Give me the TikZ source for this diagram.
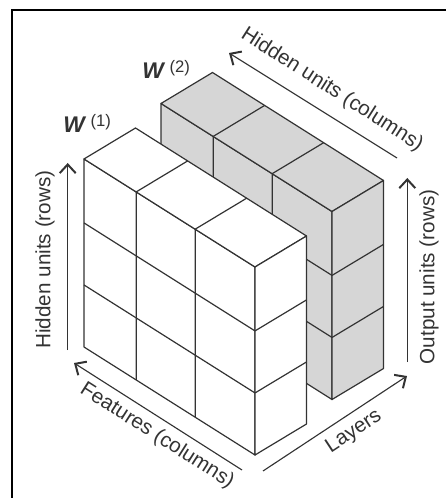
\documentclass[tikz,border=0pt]{standalone}
\usepackage{fontspec}
\setmainfont{Liberation Sans}
\usetikzlibrary{arrows.meta}
\definecolor{edgegray}{HTML}{333333}
\definecolor{boxgray}{HTML}{D6D6D6}
\begin{document}
\begin{tikzpicture}[x=0.75pt, y=-0.75pt,
  every node/.style={font=\fontsize{15.5pt}{18pt}\selectfont, text=edgegray, inner sep=0pt},
  cell/.style={draw=edgegray, line width=0.9pt, line join=round},
  axis/.style={draw=edgegray, line width=0.85pt, -{Straight Barb[length=6.5pt, width=12pt, line width=1.5pt]}},
  wlabel/.style={anchor=base west, font=\fontsize{17pt}{20pt}\selectfont\bfseries\itshape}]
  \useasboundingbox (0,0) rectangle (446,498);

  % Frame
  \draw[line width=1.1pt] (12,498) -- (12,10) -- (446,10);

  % Weight blocks: W(2) behind, W(1) in front
  \foreach \ox/\oy/\fc in {161/103.5/boxgray, 84/159/white} {
    \begin{scope}[shift={(\ox,\oy)}]
      \filldraw[cell, fill=\fc] (0,0) -- (171,108) -- (171,296) -- (0,188) -- cycle;
      \filldraw[cell, fill=\fc] (0,0) -- (51.5,-31) -- (222.5,77) -- (171,108) -- cycle;
      \filldraw[cell, fill=\fc] (171,108) -- (222.5,77) -- (222.5,265) -- (171,296) -- cycle;
      % column edges
      \foreach \f in {0.305,0.65}
        \draw[cell] (171*\f,188+108*\f) -- (171*\f,108*\f) -- ++(51.5,-31);
      % row edges
      \foreach \g in {0.34,0.67}
        \draw[cell] (0,188*\g) -- (171,108+188*\g) -- ++(51.5,-31);
    \end{scope}
  }

  % Axes
  \coordinate (hrs) at (67.7,350);  \coordinate (hre) at (67.7,163);
  \coordinate (ors) at (407.3,362); \coordinate (ore) at (407.3,178);
  \coordinate (hcs) at (397,158);   \coordinate (hce) at (229,53);
  \coordinate (fcs) at (242,470);   \coordinate (fce) at (74,363);
  \coordinate (lys) at (263,471);   \coordinate (lye) at (407,376);
  \draw[axis] (hrs) -- (hre);
  \draw[axis] (ors) -- (ore);
  \draw[axis] (hcs) -- (hce);
  \draw[axis] (fcs) -- (fce);
  \draw[axis] (lys) -- (lye);

  % Axis labels
  \node[rotate=90] (hrlabel) at (45,259.5) {Hidden units (rows)};
  \node[rotate=90] (orlabel) at (429,277) {Output units (rows)};
  \node[rotate=-32.5] (hclabel) at (332,90) {Hidden units (columns)};
  \node[rotate=-32.5] (fclabel) at (157,436) {Features (columns)};
  \node[rotate=33.4] (lylabel) at (354,432) {Layers};

  % Block names
  \node[wlabel] (wone) at (63,133)
    {W\hspace{4.5pt}\raisebox{5pt}{\fontsize{12.5pt}{14pt}\selectfont\mdseries\upshape(1)}};
  \node[wlabel] (wtwo) at (142,79)
    {W\hspace{4.5pt}\raisebox{5pt}{\fontsize{12.5pt}{14pt}\selectfont\mdseries\upshape(2)}};
\end{tikzpicture}
\end{document}
